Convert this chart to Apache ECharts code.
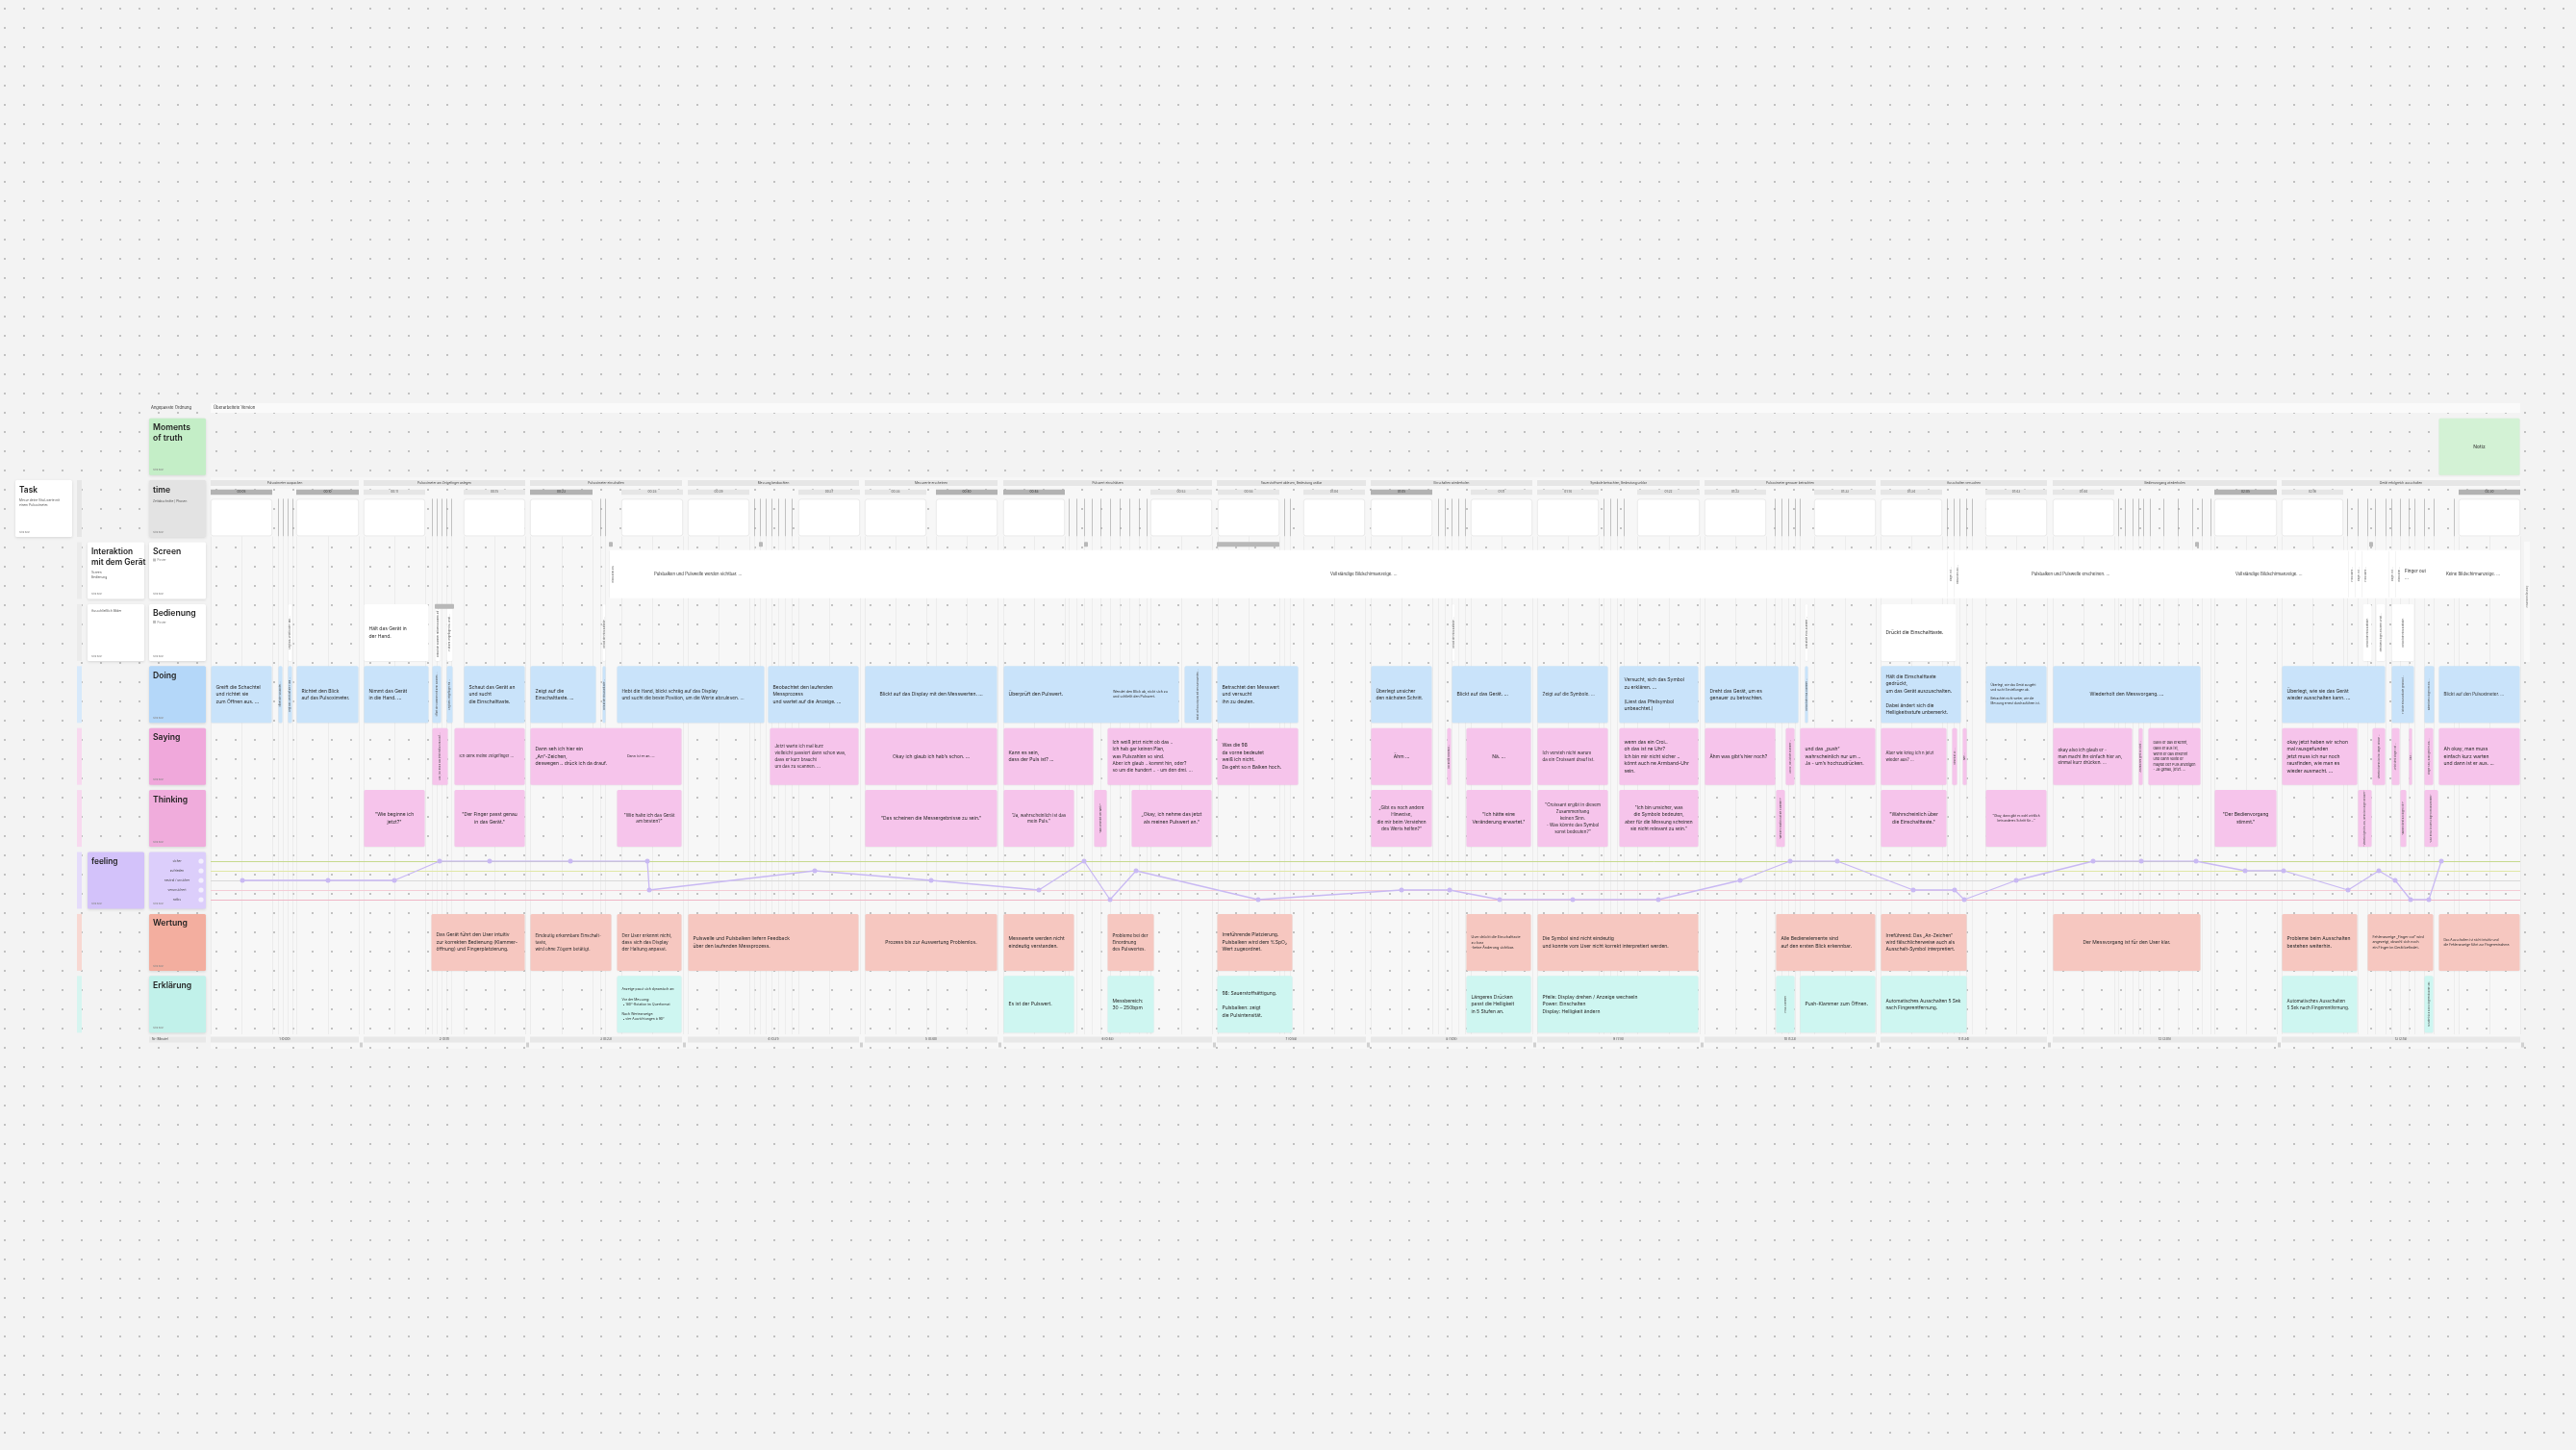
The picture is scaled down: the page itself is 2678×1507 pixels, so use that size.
<!DOCTYPE html>
<html><head><meta charset="utf-8">
<script src="https://cdn.jsdelivr.net/npm/echarts@6/dist/echarts.min.js"></script>
<style>html,body{margin:0;padding:0;background:#f3f3f3;overflow:hidden}#c{width:2678px;height:1507px}</style>
</head><body><div id="c"></div>
<script>
// ---------------- DATA ----------------
const rows = ['Moments of truth','time','Screen','Bedienung','Doing','Saying','Thinking','feeling','Wertung','Erklärung'];
const feelingLevels = ['sicher','zufrieden','neutral / unsicher','verunsichert','ratlos'];

// timeline units: 0 = start of the journey board
const phases = [
 [0,154,'Pulsoximeter auspacken','1 (0:00)'],
 [159,327,'Pulsoximeter am Zeigefinger anlegen','2 (0:11)'],
 [332,490,'Pulsoximeter einschalten','3 (0:23)'],
 [496,674,'Messung beobachten','4 (0:31)'],
 [680,818,'Messwerte erscheinen','5 (0:40)'],
 [824,1041,'Pulswert einschätzen','6 (0:48)'],
 [1046,1201,'Sauerstoffwert ablesen, Bedeutung unklar','7 (0:58)'],
 [1206,1374,'Einschalten wiederholen','8 (1:05)'],
 [1379,1548,'Symbole betrachten, Bedeutung unklar','9 (1:14)'],
 [1553,1731,'Pulsoximeter genauer betrachten','10 (1:23)'],
 [1736,1909,'Ausschalten versuchen','11 (1:34)'],
 [1915,2148,'Bedienvorgang wiederholen','12 (2:05)'],
 [2153,2401,'Gerät erfolgreich ausschalten','13 (2:18)']
];

// screenshots: start, end, timestamp, key frame
const shots = [
 [0,64,'00:05',1],[89,154,'00:10',1],[159,223,'00:11',0],[263,327,'00:15',0],
 [332,397,'00:23',1],[427,491,'00:28',0],[496,560,'00:29',0],[611,675,'00:37',0],
 [680,744,'00:38',0],[754,818,'00:40',1],[824,888,'00:48',1],[977,1041,'00:53',0],
 [1047,1111,'00:58',0],[1136,1200,'01:04',0],[1206,1270,'01:05',1],[1310,1374,'01:11',0],
 [1379,1443,'01:14',0],[1483,1548,'01:22',0],[1553,1617,'01:23',0],[1667,1731,'01:33',0],
 [1736,1800,'01:34',0],[1845,1909,'01:43',0],[1915,1979,'01:44',0],[2083,2148,'02:05',1],
 [2153,2217,'02:16',0],[2337,2401,'02:30',1]
];

// short sub-steps between screenshots
const dividers = [70,75,80,85,230,235,240,245,250,405,410,565,571,577,583,590,597,604,
 892,900,908,916,925,935,945,955,965,973,1116,1122,1276,1283,1290,1297,1304,1448,1455,1462,1469,
 1626,1633,1640,1647,1652,1805,1812,1818,1825,1831,1983,1990,1998,2004,2009,2016,2030,2045,2060,2070,2079,
 2221,2232,2242,2250,2261,2267,2276,2285,2291,2301,2311,2332];

const markers = [[414,418,2],[570,574,2],[908,912,2],[1046,1111,2],[2063,2067,2],[2244,2248,2],[233,253,3]];

const screenBand = [415,2401];
const screenTexts = [
 [461,'Pulsbalken und Pulswelle werden sichtbar. ...'],
 [1164,'Vollständige Bildschirmanzeige. ...'],
 [1893,'Pulsbalken und Pulswelle erscheinen. ...'],
 [2105,'Vollständige Bildschirmanzeige. ...'],
 [2281,'Finger out\n...'],
 [2324,'Keine Bildschirmanzeige. ...']
];
const screenNotes = [
 [418,'Bildschirm aus'],[1809,'Finger out ...'],[1816,'Bildschirm aus ...'],
 [2226,'Pulsbalken ...'],[2233,'Finger out ...'],[2240,'Pulsbalken ...'],[2268,'Finger out ...'],[2275,'Bildschirm ...']
];

const moments = [[2316,2401,'Notiz']];

const bedienung = [
 [80,85,'Legt das Gerät in die Hand ...'],
 [159,227,'Hält das Gerät in\nder Hand.'],
 [233,239,'Drückt die Klammer mit dem Daumen auf ...'],
 [245,252,'Hält den Zeigefinger ins Gerät ...'],
 [407,411,'Drückt die Einschalttaste ...'],
 [1290,1294,'Drückt die Einschalttaste ...'],
 [1657,1661,'Drückt die Push-Klammer ...'],
 [1736,1815,'Drückt die Einschalttaste.'],
 [2237,2247,'Drückt die Einschalttaste.'],
 [2251,2261,'Zieht den Finger aus dem Gerät ...'],
 [2267,2291,'Drückt die Einschalttaste.']
];

const doing = [
 [0,64,'Greift die Schachtel\nund richtet sie\nzum Öffnen aus. ...'],
 [70,75,'Öffnet die Schachtel ...'],
 [80,85,'Legt das Gerät auf die Hand ...'],
 [89,154,'Richtet den Blick\nauf das Pulsoximeter.'],
 [159,227,'Nimmt das Gerät\nin die Hand. ...'],
 [230,240,'Öffnet die Klammer mit dem Daumen ...'],
 [245,252,'Legt den Zeigefinger ein ...'],
 [263,327,'Schaut das Gerät an\nund sucht\ndie Einschalttaste.'],
 [332,401,'Zeigt auf die\nEinschalttaste. ...'],
 [407,411,'Drückt die Einschalttaste ...'],
 [422,576,'Hebt die Hand, blickt schräg auf das Display\nund sucht die beste Position, um die Werte abzulesen. ...'],
 [579,674,'Beobachtet den laufenden\nMessprozess\nund wartet auf die Anzeige. ...'],
 [680,818,'Blickt auf das Display mit den Messwerten. ...'],
 [824,1007,'Überprüft den Pulswert.','Wendet den Blick ab, nickt sich zu\nund schließt den Pulswert.',938],
 [1012,1041,'Blickt auf das Display mit den Messwerten ...'],
 [1046,1131,'Betrachtet den Messwert\nund versucht\nihn zu deuten.'],
 [1206,1270,'Überlegt unsicher\nden nächsten Schritt.'],
 [1290,1373,'Blickt auf das Gerät. ...'],
 [1379,1453,'Zeigt auf die Symbole. ...'],
 [1464,1547,'Versucht, sich das Symbol\nzu erklären. ...\n\n(Liest das Pfeilsymbol\nunbeachtet.)'],
 [1553,1651,'Dreht das Gerät, um es\ngenauer zu betrachten.'],
 [1657,1661,'Drückt die Push-Klammer ...'],
 [1736,1820,'Hält die Einschalttaste\ngedrückt,\num das Gerät auszuschalten.\n\nDabei ändert sich die\nHelligkeitsstufe unbemerkt.'],
 [1845,1909,'Überlegt, wie das Gerät ausgeht\nund sucht Einstellungen ab.\n\nBetrachtet nicht weiter, wie die\nMessung erneut durchzuführen ist.'],
 [1915,2069,'Wiederholt den Messvorgang. ...'],
 [2153,2261,'Überlegt, wie sie das Gerät\nwieder ausschalten kann. ...'],
 [2267,2291,'Hält die Einschalttaste gedrückt ...'],
 [2301,2312,'Nimmt den Finger heraus ...'],
 [2316,2401,'Blickt auf den Pulsoximeter. ...']
];

const saying = [
 [230,247,'Also, ich mach das jetzt einfach mal auf ...'],
 [253,327,'Ich denk meine Zeigefinger ...'],
 [332,490,'Dann seh ich hier ein\n\u201EAn\u201C-Zeichen,\ndeswegen .. drück ich da drauf.','Dann ist er an. ...',433],
 [581,674,'Jetzt warte ich mal kurz\nvielleicht passiert dann schon was,\ndass er kurz braucht\num das zu scannen. ...'],
 [680,818,'Okay ich glaub ich hab\u2019s schon. ...'],
 [824,918,'Kann es sein,\ndass der Puls ist? ...'],
 [932,1041,'Ich weiß jetzt nicht ob das ..\nIch hab gar keinen Plan,\nwas Pulszahlen so sind.\nAber ich glaub .. kommt hin, oder?\nso um die hundert .. - um den drei. ...'],
 [1046,1131,'Was die 98\nda vorne bedeutet\nweiß ich nicht.\nDa geht so n Balken hoch.'],
 [1206,1270,'Ähm ...'],
 [1285,1290,'Ich drück nochmal ...'],
 [1305,1373,'Nä. ...'],
 [1379,1453,'Ich versteh nicht warum\nda ein Croissant drauf ist.'],
 [1464,1547,'wenn das ein Croi..\noh das ist ne Uhr?\nIch bin mir nicht sicher ..\nkönnt auch ne Armband-Uhr\nsein.'],
 [1553,1627,'Ähm was gibt\u2019s hier noch?'],
 [1637,1647,'Achso, das ist die Klammer ...'],
 [1652,1731,'und das \u201Epush\u201C\nwahrscheinlich nur um ..\nJa - um\u2019s hochzudrücken.'],
 [1736,1805,'Aber wie krieg ich n jetzt\nwieder aus? ...'],
 [1810,1816,'Vielleicht so ...'],
 [1821,1826,'Nee ...'],
 [1915,1998,'okay also ich glaub er -\nman macht ihn einfach hier an,\neinmal kurz drücken. ...'],
 [2004,2009,'Ausmachen geht so nicht ...'],
 [2014,2069,'Dass er das erkennt,\ndass er aus ist,\nwenn er das erkennt\nund dann sollte er\nmaybe der Puls anzeigen\n- Ja genau, jetzt. ...'],
 [2153,2232,'okay jetzt haben wir schon\nmal rausgefunden\njetzt muss ich nur noch\nrausfinden, wie man es\nwieder ausmacht. ...'],
 [2247,2261,'Vielleicht wenn ich ihn länger drücke ...'],
 [2267,2276,'Jetzt steht Finger out ...'],
 [2285,2289,'Aha ...'],
 [2301,2311,'Finger raus, dann geht er aus ...'],
 [2316,2401,'Ah okay, man muss\neinfach kurz warten\nund dann ist er aus. ...']
];

const thinking = [
 [159,223,'"Wie beginne ich\njetzt?"'],
 [253,327,'"Der Finger passt genau\nin das Gerät."'],
 [422,490,'"Wie halte ich das Gerät\nam besten?"'],
 [680,818,'"Das scheinen die Messergebnisse zu sein."'],
 [824,898,'"Ja, wahrscheinlich ist das\nmein Puls."'],
 [918,932,'"Was bedeutet der Wert?"'],
 [957,1041,'\u201EOkay, ich nehme das jetzt\nals meinen Pulswert an.\u201C'],
 [1206,1270,'\u201EGibt es noch andere\nHinweise,\ndie mir beim Verstehen\ndes Werts helfen?\u201C'],
 [1305,1373,'"Ich hätte eine\nVeränderung erwartet."'],
 [1379,1453,'"Croissant ergibt in diesem\nZusammenhang\nkeinen Sinn.\n- Was könnte das Symbol\nsonst bedeuten?"'],
 [1464,1547,'"Ich bin unsicher, was\ndie Symbole bedeuten,\naber für die Messung scheinen\nsie nicht relevant zu sein."'],
 [1627,1637,'"Welche Funktion hat die Klammer?"'],
 [1736,1805,'"Wahrscheinlich über\ndie Einschalttaste."'],
 [1845,1909,'"Okay, dann gibt es wohl wirklich\nkein anderes Schritt für ..."'],
 [2083,2148,'"Der Bedienvorgang\nstimmt."'],
 [2232,2247,'"Vielleicht geht es aus, wenn ich länger drücke?"'],
 [2276,2283,'"Warum steht da Finger out?"'],
 [2301,2316,'"Also muss ich den Finger herausnehmen."']
];

const wertung = [
 [229,327,'Das Gerät führt den User intuitiv\nzur korrekten Bedienung (Klammer-\nöffnung) und Fingerplatzierung.'],
 [332,417,'Eindeutig erkennbare Einschalt-\ntaste,\nwird ohne Zögern betätigt.'],
 [422,490,'Der User erkennt nicht,\ndass sich das Display\nder Haltung anpasst.'],
 [496,674,'Pulswelle und Pulsbalken liefern Feedback\nüber den laufenden Messprozess.'],
 [680,818,'Prozess bis zur Auswertung Problemlos.'],
 [824,898,'Messwerte werden nicht\neindeutig verstanden.'],
 [932,981,'Probleme bei der\nEinordnung\ndes Pulswertes.'],
 [1046,1125,'Irreführende Platzierung.\nPulsbalken wird dem %SpO\u2082\nWert zugeordnet.'],
 [1305,1373,'User drückt die Einschalttaste\nzu kurz\n-keine Änderung sichtbar.'],
 [1379,1547,'Die Symbol sind nicht eindeutig\nund konnte vom User nicht korrekt interpretiert werden.'],
 [1627,1731,'Alle Bedienelemente sind\nauf den ersten Blick erkennbar.'],
 [1736,1826,'Irreführend: Das \u201EAn-Zeichen\u201C\nwird fälschlicherweise auch als\nAusschalt-Symbol interpretiert.'],
 [1915,2069,'Der Messvorgang ist für den User klar.'],
 [2153,2232,'Probleme beim Ausschalten\nbestehen weiterhin.'],
 [2242,2311,'Fehleranzeige \u201EFinger out\u201C wird\nangezeigt, obwohl sich noch\nein Finger im Gerät befindet.'],
 [2316,2401,'Das Ausschalten ist nicht intuitiv und\ndie Fehleranzeige führt zur Fingerentnahme.']
];

const erklaerung = [
 [422,490,'Anzeige passt sich dynamisch an:\n\nVor der Messung:\n \u2022 180°-Rotation im Querformat\n\nNach Werteanzeige:\n \u2022 vier Ausrichtungen à 90°'],
 [824,898,'Es ist der Pulswert.'],
 [932,981,'Messbereich:\n30 \u2013 250bpm'],
 [1046,1125,'98: Sauerstoffsättigung.\n\nPulsbalken: zeigt\ndie Pulsintensität.'],
 [1305,1373,'Längeres Drücken\npasst die Helligkeit\nin 5 Stufen an.'],
 [1379,1547,'Pfeile: Display drehen / Anzeige wechseln\nPower: Einschalten\nDisplay: Helligkeit ändern'],
 [1627,1647,'Push-Klammer'],
 [1652,1731,'Push-Klammer zum Öffnen.'],
 [1736,1826,'Automatisches Ausschalten 5 Sek\nnach Fingerentfernung.'],
 [2153,2232,'Automatisches Ausschalten\n5 Sek nach Fingerentfernung.'],
 [2301,2311,'Schaltet sich nach Fingerentnahme aus']
];

// feeling curve: [timeline position, level index 0=sicher .. 4=ratlos]
const feeling = [
 [33,2],[122,2],[191,2],[238,0],[290,0],[374,0],[454,0],[456,3],[628,1],[749,2],[861,3],
 [908,0],[935,4],[962,1],[1089,4],[1238,3],[1288,3],[1340,4],[1416,4],[1505,4],[1590,2],
 [1642,0],[1691,0],[1770,3],[1813,3],[1823,4],[1877,2],[1957,0],[2007,0],[2064,0],[2115,1],
 [2155,1],[2222,3],[2254,1],[2271,2],[2287,4],[2306,4],[2319,0]
];

const headerCards = [
 ['Moments\nof truth',''],['time','Zeitabschnitte | Phasen'],['Screen','Poster'],['Bedienung','Poster'],
 ['Doing',''],['Saying',''],['Thinking',''],['',''],['Wertung',''],['Erklärung','']
];

// ---------------- STYLE / LAYOUT ----------------
const FONT = 'Inter, "Noto Sans", sans-serif';
const TXT = '#2a2a2a';
const headerFill = ['#c4eec7','#e3e3e3','#ffffff','#ffffff','#b4d7f9','#f0a8db','#f0acdc','#dccefb','#f3ae9f','#c1f1ea'];
const stripeFill = ['','#e6e6e6','#ebebeb','#ebebeb','#d7e9fb','#f8d9ef','#f8d9ef','#e5dcfb','#f8d8d2','#d6f5f0'];
const levelColors = ['#c6da8e','#e0e8a6','#d9d9d9','#f4ccd6','#f0b6c6'];
const boxFill = {doing:'#c9e3fa', saying:'#f6c4eb', thinking:'#f6c4eb', wertung:'#f6c7c0', erkl:'#cef6f1', bed:'#ffffff', mom:'#d3f2d5'};

function band(api,row){const c=api.coord([0,row]);const bh=api.size([0,1])[1];return {top:c[1]-bh/2,bh:bh,cy:c[1]};}
function xr(api,u0,u1,row){return [api.coord([u0,row])[0],api.coord([u1,row])[0]];}

function fitSize(text, avail, base){
  const lines=text.split('\n');
  const maxLen=Math.max.apply(null,lines.map(l=>l.length));
  const need=maxLen*base*0.53;
  return need>avail?Math.max(2.4,avail/(maxLen*0.53)):base;
}

function textEl(text,x,y,w,align,base,fill){
  const fs=fitSize(text,w,base);
  return {type:'text',x:x,y:y,style:{text:text,fontSize:fs,lineHeight:fs*1.5,fill:fill||TXT,fontFamily:FONT,align:align,verticalAlign:'middle'}};
}

function boxSeries(list,row,fill,centerAll){
  return {
    type:'custom',xAxisIndex:0,yAxisIndex:0,z:5,clip:false,silent:true,
    data:list.map(d=>[d[0],d[1],row]),encode:{x:[0,1],y:2},
    renderItem(params,api){
      const d=list[params.dataIndex];
      const b=band(api,row);const xs=xr(api,d[0],d[1],row);
      const h=b.bh*0.916,y=b.cy-h/2,x=xs[0]+0.5,w=xs[1]-xs[0]-1;
      const ch=[{type:'rect',shape:{x:x,y:y,width:w,height:h,r:1.5},style:{fill:fill,shadowBlur:1.5,shadowColor:'rgba(0,0,0,0.07)',shadowOffsetY:0.5}}];
      const t=d[2]||'';
      if(w<32){
        ch.push({type:'text',x:x+w/2,y:b.cy,rotation:Math.PI/2,style:{text:t,fontSize:2.5,fill:'#444',fontFamily:FONT,align:'center',verticalAlign:'middle'}});
      } else {
        const right=d[3]?api.coord([d[4],row])[0]:x+w;
        const w1=right-x;
        const single=t.indexOf('\n')<0;
        const center=centerAll||(single&&(w1>120||t.length<=16));
        if(center) ch.push(textEl(t,x+w1/2,b.cy,w1-8,'center',5));
        else ch.push(textEl(t,x+5,b.cy,w1-9,'left',5));
        if(d[3]) ch.push(textEl(d[3],right,b.cy,x+w-right-5,'left',3.6));
      }
      return {type:'group',children:ch};
    }
  };
}

// dotted canvas tile
const tile=document.createElement('canvas');tile.width=20;tile.height=20;
(function(){const g=tile.getContext('2d');g.fillStyle='#b4b4b4';g.beginPath();g.arc(5,9,1.05,0,Math.PI*2);g.fill();})();

const series=[];

// faint vertical grid lines at screenshots
series.push({type:'custom',xAxisIndex:0,yAxisIndex:0,z:1,clip:false,silent:true,
  data:shots.map(s=>[s[0],s[1],1]),encode:{x:[0,1],y:2},
  renderItem(params,api){
    const s=shots[params.dataIndex];const t=band(api,1);const bot=band(api,9);
    const xs=[s[0],(s[0]+s[1])/2,s[1]].map(u=>Math.round(api.coord([u,1])[0])+0.5);
    return {type:'group',children:xs.map(x=>({type:'line',shape:{x1:x,y1:t.top+61,x2:x,y2:bot.top+bot.bh-1},style:{stroke:'#e9e9e9',lineWidth:0.8}}))};
  }});

// divider lines (short sub-steps)
series.push({type:'custom',xAxisIndex:0,yAxisIndex:0,z:2,clip:false,silent:true,
  data:dividers.map(u=>[u,1]),encode:{x:0,y:1},
  renderItem(params,api){
    const u=dividers[params.dataIndex];const t=band(api,1);const bot=band(api,9);
    const x=Math.round(api.coord([u,1])[0])+0.5;
    return {type:'group',children:[
      {type:'line',shape:{x1:x,y1:t.top+22,x2:x,y2:t.top+61},style:{stroke:'#a9a9a9',lineWidth:0.7}},
      {type:'line',shape:{x1:x,y1:t.top+61,x2:x,y2:bot.top+bot.bh-1},style:{stroke:'#e6e6e6',lineWidth:0.6}}
    ]};
  }});

// phases: header band + bottom label band
series.push({type:'custom',xAxisIndex:0,yAxisIndex:0,z:3,clip:false,silent:true,
  data:phases.map(p=>[p[0],p[1],1]),encode:{x:[0,1],y:2},
  renderItem(params,api){
    const p=phases[params.dataIndex];const t=band(api,1);const bot=band(api,9);
    const xs=xr(api,p[0],p[1],1);const w=xs[1]-xs[0];
    const by=bot.top+bot.bh+1.5;
    return {type:'group',children:[
      {type:'rect',shape:{x:xs[0],y:t.top+2.6,width:w,height:6},style:{fill:'#e6e6e6'}},
      {type:'text',x:xs[0]+w/2,y:t.top+5.6,style:{text:p[2],fontSize:3.2,fill:'#444',fontFamily:FONT,align:'center',verticalAlign:'middle'}},
      {type:'rect',shape:{x:xs[0],y:by,width:w,height:6},style:{fill:'#e8e8e8'}},
      {type:'text',x:xs[0]+w/2,y:by+3,style:{text:p[3],fontSize:3.2,fill:'#444',fontFamily:FONT,align:'center',verticalAlign:'middle'}},
      {type:'rect',shape:{x:xs[1]+1,y:by+6,width:3,height:5},style:{fill:'#d0d0d0'}}
    ]};
  }});

// screenshots with timestamps
series.push({type:'custom',xAxisIndex:0,yAxisIndex:0,z:3,clip:false,silent:true,
  data:shots.map(s=>[s[0],s[1],1]),encode:{x:[0,1],y:2},
  renderItem(params,api){
    const s=shots[params.dataIndex];const t=band(api,1);
    const xs=xr(api,s[0],s[1],1);const w=xs[1]-xs[0];
    return {type:'group',children:[
      {type:'rect',shape:{x:xs[0],y:t.top+12.4,width:w,height:5.4},style:{fill:s[3]?'#b2b2b2':'#e6e6e6'}},
      {type:'text',x:xs[0]+w/2,y:t.top+15.1,style:{text:s[2],fontSize:3.2,fill:s[3]?'#333':'#555',fontFamily:FONT,align:'center',verticalAlign:'middle'}},
      {type:'rect',shape:{x:xs[0]+0.3,y:t.top+22.5,width:w-0.6,height:38,r:2.5},style:{fill:'#ffffff',stroke:'#dedede',lineWidth:0.6}}
    ]};
  }});

// screen band
series.push({type:'custom',xAxisIndex:0,yAxisIndex:0,z:4,clip:false,silent:true,
  data:[[screenBand[0],screenBand[1],2]],encode:{x:[0,1],y:2},
  renderItem(params,api){
    const b=band(api,2);const xs=xr(api,screenBand[0],screenBand[1],2);
    const ch=[{type:'rect',shape:{x:xs[0],y:b.top+11,width:xs[1]-xs[0],height:50},style:{fill:'#ffffff'}}];
    screenTexts.forEach(s=>{const x=api.coord([s[0],2])[0];ch.push({type:'text',x:x,y:b.top+36,style:{text:s[1],fontSize:s[1].indexOf('\n')>=0?4.6:4.3,lineHeight:7,fill:'#333',fontFamily:FONT,align:'left',verticalAlign:'middle'}});});
    screenNotes.forEach(s=>{const x=api.coord([s[0],2])[0];ch.push({type:'line',shape:{x1:x-3.5,y1:b.top+12,x2:x-3.5,y2:b.top+60},style:{stroke:'#ececec',lineWidth:0.6}});ch.push({type:'text',x:x,y:b.top+36,rotation:Math.PI/2,style:{text:s[1],fontSize:2.5,fill:'#555',fontFamily:FONT,align:'center',verticalAlign:'middle'}});});
    return {type:'group',children:ch};
  }});

series.push(boxSeries(moments,0,boxFill.mom,false));
series.push(boxSeries(bedienung,3,boxFill.bed,false));
series.push(boxSeries(doing,4,boxFill.doing,false));
series.push(boxSeries(saying,5,boxFill.saying,false));
series.push(boxSeries(thinking,6,boxFill.thinking,true));
series.push(boxSeries(wertung,8,boxFill.wertung,false));
series.push(boxSeries(erklaerung,9,boxFill.erkl,false));

// gray markers
series.push({type:'custom',xAxisIndex:0,yAxisIndex:0,z:7,clip:false,silent:true,
  data:markers.map(m=>[m[0],m[1],m[2]]),encode:{x:[0,1],y:2},
  renderItem(params,api){
    const m=markers[params.dataIndex];const b=band(api,m[2]);const xs=xr(api,m[0],m[1],m[2]);
    return {type:'rect',shape:{x:xs[0],y:b.top+2.5,width:xs[1]-xs[0],height:5,r:0.8},style:{fill:'#b8b8b8'}};
  }});

// row header cards + stripe
series.push({type:'custom',xAxisIndex:0,yAxisIndex:0,z:5,clip:false,silent:true,
  data:rows.map((r,i)=>[-64,-5,i]),encode:{x:[0,1],y:2},
  renderItem(params,api){
    const i=params.dataIndex;const hc=headerCards[i];const b=band(api,i);
    const xs=xr(api,-64,-5,i);const h=b.bh*0.916,y=b.cy-h/2,w=xs[1]-xs[0];
    const ch=[{type:'rect',shape:{x:xs[0],y:y,width:w,height:h,r:1.5},style:{fill:headerFill[i],shadowBlur:3,shadowColor:'rgba(0,0,0,0.12)',shadowOffsetY:1}}];
    if(hc[0]) ch.push({type:'text',x:xs[0]+4,y:y+4.5,style:{text:hc[0],fontSize:8.6,lineHeight:11,fontWeight:600,fill:'#222',fontFamily:FONT,align:'left',verticalAlign:'top'}});
    if(hc[1]==='Poster'){
      ch.push({type:'rect',shape:{x:xs[0]+4,y:y+17,width:3,height:3},style:{fill:'#bdbdbd'}});
      ch.push({type:'text',x:xs[0]+8.5,y:y+18.7,style:{text:'Poster',fontSize:3,fill:'#777',fontFamily:FONT,verticalAlign:'middle'}});
    } else if(hc[1]) ch.push({type:'text',x:xs[0]+4,y:y+22,style:{text:hc[1],fontSize:3.2,fill:'#555',fontFamily:FONT,verticalAlign:'middle'}});
    ch.push({type:'text',x:xs[0]+4,y:y+h-5,style:{text:'Nina Baur',fontSize:2.4,fill:'#888',fontFamily:FONT,verticalAlign:'middle'}});
    if(stripeFill[i]){const sx=xr(api,-139,-134,i);ch.push({type:'rect',shape:{x:sx[0],y:b.top+2.7,width:sx[1]-sx[0],height:b.bh-5.4},style:{fill:stripeFill[i]}});}
    return {type:'group',children:ch};
  }});

// left grouping cards
const leftCards=[
 {u:[-203,-144],row:1,title:'Task',sub:'Messe deine Vital-werte mit\neinem Pulsoximeter.',fill:'#ffffff'},
 {u:[-128,-69],row:2,title:'Interaktion\nmit dem Gerät',sub:'Screen\nBedienung',fill:'#ffffff'},
 {u:[-128,-69],row:3,title:'',sub:'Ausschließlich Bilder',fill:'#ffffff'},
 {u:[-128,-69],row:7,title:'feeling',sub:'',fill:'#d3c2fa'}
];
series.push({type:'custom',xAxisIndex:0,yAxisIndex:0,z:5,clip:false,silent:true,
  data:leftCards.map(c=>[c.u[0],c.u[1],c.row]),encode:{x:[0,1],y:2},
  renderItem(params,api){
    const c=leftCards[params.dataIndex];const b=band(api,c.row);const xs=xr(api,c.u[0],c.u[1],c.row);
    const h=b.bh*0.916,y=b.cy-h/2,w=xs[1]-xs[0];
    const ch=[{type:'rect',shape:{x:xs[0],y:y,width:w,height:h,r:1.5},style:{fill:c.fill,shadowBlur:3,shadowColor:'rgba(0,0,0,0.12)',shadowOffsetY:1}}];
    const lines=c.title?c.title.split('\n').length:0;
    if(c.title) ch.push({type:'text',x:xs[0]+4,y:y+4.5,style:{text:c.title,fontSize:8.3,lineHeight:11,fontWeight:600,fill:'#222',fontFamily:FONT,verticalAlign:'top'}});
    if(c.sub) ch.push({type:'text',x:xs[0]+4,y:c.title?y+7+lines*11:y+5,style:{text:c.sub,fontSize:3.2,lineHeight:5.2,fill:'#555',fontFamily:FONT,verticalAlign:'top'}});
    ch.push({type:'text',x:xs[0]+4,y:y+h-5,style:{text:'Nina Baur',fontSize:2.4,fill:'#888',fontFamily:FONT,verticalAlign:'middle'}});
    return {type:'group',children:ch};
  }});

// bottom-left band label
series.push({type:'custom',xAxisIndex:0,yAxisIndex:0,z:3,clip:false,silent:true,
  data:[[-64,-5,9]],encode:{x:[0,1],y:2},
  renderItem(params,api){
    const b=band(api,9);const xs=xr(api,-64,-5,9);const by=b.top+b.bh+1.5;
    return {type:'group',children:[
      {type:'rect',shape:{x:xs[0],y:by,width:xs[1]-xs[0],height:6},style:{fill:'#e8e8e8'}},
      {type:'text',x:xs[0]+3,y:by+3,style:{text:'Nr (Minute)',fontSize:3.2,fill:'#444',fontFamily:FONT,verticalAlign:'middle'}}
    ]};
  }});

// feeling level lines
series.push({type:'custom',xAxisIndex:1,yAxisIndex:1,z:4,clip:false,silent:true,
  data:feelingLevels.map((l,i)=>[0,2401,i]),encode:{x:[0,1],y:2},
  renderItem(params,api){
    const i=params.dataIndex;const a=api.coord([0,i]),b=api.coord([2401,i]);
    return {type:'line',shape:{x1:a[0],y1:Math.round(a[1])+0.5,x2:b[0],y2:Math.round(a[1])+0.5},style:{stroke:levelColors[i],lineWidth:1}};
  }});
// feeling labels in row header
series.push({type:'custom',xAxisIndex:1,yAxisIndex:1,z:6,clip:false,silent:true,
  data:feelingLevels.map((l,i)=>[-35,i]),encode:{x:0,y:1},
  renderItem(params,api){
    const i=params.dataIndex;const p=api.coord([-35,i]);const q=api.coord([-10,i]);
    return {type:'group',children:[
      {type:'text',x:p[0],y:p[1],style:{text:feelingLevels[i],fontSize:3.2,fill:'#444',fontFamily:FONT,align:'center',verticalAlign:'middle'}},
      {type:'circle',shape:{cx:q[0],cy:q[1],r:2.6},style:{fill:'#f3effd'}}
    ]};
  }});
// feeling curve
series.push({type:'line',xAxisIndex:1,yAxisIndex:1,z:8,data:feeling,symbol:'circle',symbolSize:5,
  lineStyle:{color:'#c9b9f3',width:1.3},itemStyle:{color:'#c9b9f3'},silent:true,animation:false});

const option={
  animation:false,
  backgroundColor:'#f3f3f3',
  grid:[
    {left:0,top:432,width:2678,height:644,containLabel:false},
    {left:219,top:895,width:2401,height:40,containLabel:false}
  ],
  xAxis:[
    {type:'value',gridIndex:0,min:-219,max:2459,show:false},
    {type:'value',gridIndex:1,min:0,max:2401,show:false}
  ],
  yAxis:[
    {type:'category',gridIndex:0,data:rows,inverse:true,show:false},
    {type:'value',gridIndex:1,min:0,max:4,interval:1,inverse:true,show:false}
  ],
  graphic:[
    {type:'rect',z:-20,silent:true,shape:{x:219,y:496,width:2401,height:594},style:{fill:'#f7f7f7'}},
    {type:'rect',z:-19,silent:true,shape:{x:0,y:0,width:2678,height:1507},style:{fill:{image:tile,repeat:'repeat'}}},
    {type:'rect',z:-18,silent:true,shape:{x:219,y:419,width:2401,height:10},style:{fill:'#fafafa'}},
    {type:'text',z:1,silent:true,x:157,y:424,style:{text:'Angepasste Ordnung',fontSize:4.2,fill:'#333',fontFamily:FONT,verticalAlign:'middle'}},
    {type:'text',z:1,silent:true,x:222,y:424,style:{text:'Überarbeitete Version',fontSize:4.2,fill:'#333',fontFamily:FONT,verticalAlign:'middle'}},
    {type:'rect',z:1,silent:true,shape:{x:2624,y:563,width:6,height:125},style:{fill:'#f9f9f9'}},
    {type:'text',z:1,silent:true,x:2627,y:620,rotation:Math.PI/2,style:{text:'Zusammenfassung',fontSize:2.6,fill:'#666',fontFamily:FONT,align:'center',verticalAlign:'middle'}}
  ],
  series:series
};
const chart=echarts.init(document.getElementById('c'),null,{renderer:'canvas',width:2678,height:1507});
chart.setOption(option);
</script>
</body></html>
